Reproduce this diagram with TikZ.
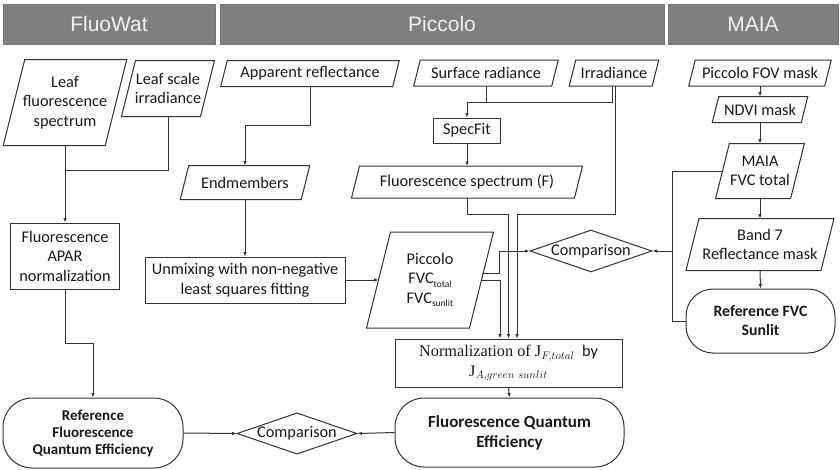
\documentclass[tikz,border=0pt]{standalone}
\usepackage{fontspec}
\setmainfont{Carlito}
\newfontfamily\headfont{Liberation Sans}
\newfontfamily\seriffont{Liberation Serif}
\usepackage{tikz}
\usetikzlibrary{calc,positioning,shapes,shapes.geometric}
\usetikzlibrary{arrows,arrows.meta}

\definecolor{barGray}{HTML}{7F7F7F}
\definecolor{lineGray}{HTML}{333333}

\begin{document}
\begin{tikzpicture}[x=1pt,y=-1pt]
    \newcommand*{\lowtext}[1]{\raisebox{-0.45ex}{\fontsize{9.5}{9.5}\selectfont #1}}
    \tikzstyle{base}=[draw=lineGray, line width=1pt, inner sep=2pt, align=center, text=black!90, font=\fontsize{16.3}{19.5}\selectfont];
    \tikzstyle{data}=[base, rectangle, draw=none];
    \tikzstyle{process}=[base, rectangle];
    \tikzstyle{result}=[base, rectangle, rounded corners=29pt, font=\bfseries\fontsize{15}{17}\selectfont];
    \tikzstyle{decision}=[base, diamond, aspect=2.9, inner sep=0pt];
    \tikzstyle{flow}=[draw=lineGray, line width=1pt, -{Latex[length=4.5pt,width=3.6pt]}];
    \tikzstyle{line}=[draw=lineGray, line width=1pt];

    \useasboundingbox (0,0) rectangle (840,469);

    % instrument headers
    \foreach \xa/\xb/\name in {3/215/FluoWat, 220/664/Piccolo, 668/838/MAIA} {
      \node[fill=barGray, draw=black!55, line width=0.6pt, minimum height=40pt, minimum width=\xb pt-\xa pt, inner sep=0pt,
            text=white!95!black, font=\headfont\fontsize{21}{21}\selectfont] (hdr-\name) at ({(\xa+\xb)/2},24) {\name};
    }

    % FluoWat column
    \node[data, minimum width=101pt, minimum height=85pt] (leafspec) at (65,102.5) {Leaf\\fluorescence\\spectrum};
    \node[data, minimum width=78pt, minimum height=55pt] (leafirr) at (168,88.5) {Leaf scale\\irradiance};
    \node[process, minimum width=109pt, minimum height=66pt] (apar) at (65,256) {Fluorescence\\APAR\\normalization};
    \node[result, minimum width=180pt, minimum height=70pt] (refqe) at (93,433) {Reference\\Fluorescence\\Quantum Efficiency};
    \node[decision, minimum width=120pt, minimum height=41pt] (cmpB) at (297,433.5) {Comparison};

    % Piccolo column
    \node[data, minimum width=171pt, minimum height=25pt] (appref) at (310,73.5) {Apparent reflectance};
    \node[data, minimum width=120pt, minimum height=33pt] (endm) at (245,182.5) {Endmembers};
    \node[process, minimum width=200pt, minimum height=46pt] (unmix) at (245,280) {Unmixing with non-negative\\least squares fitting};
    \node[data, minimum width=102pt, minimum height=95pt] (pfvc) at (430,280) {Piccolo\\FVC\lowtext{total}\\FVC\lowtext{sunlit}};
    \node[data, minimum width=137pt, minimum height=25pt] (surfrad) at (486,73) {Surface radiance};
    \node[data, minimum width=82pt, minimum height=25pt] (irr) at (614,73) {Irradiance};
    \node[process, minimum width=67pt, minimum height=25pt] (specfit) at (467,130.5) {SpecFit};
    \node[data, minimum width=222pt, minimum height=31pt] (fluorspec) at (467,182) {Fluorescence spectrum (F)};
    \node[decision, minimum width=122pt, minimum height=42pt] (cmpR) at (591,251) {Comparison};
    \node[process, minimum width=227pt, minimum height=48pt] (norm) at (508.5,363)
      {{\seriffont Normalization of J}$_{F,total}$\ \ by\\{\seriffont J}$_{A,green\ sunlit}$};
    \node[result, minimum width=229pt, minimum height=69pt, font=\bfseries\fontsize{17}{20}\selectfont] (fqe) at (509.5,432.5) {Fluorescence Quantum\\Efficiency};

    % MAIA column
    \node[data, minimum width=135pt, minimum height=25pt] (fov) at (760,73) {Piccolo FOV mask};
    \node[data, minimum width=88pt, minimum height=25pt] (ndvi) at (760,109.5) {NDVI mask};
    \node[data, minimum width=74pt, minimum height=54pt] (maiafvc) at (760,171) {MAIA\\FVC total};
    \node[data, minimum width=134pt, minimum height=51pt] (band7) at (760,244.5) {Band 7\\Reflectance mask};
    \node[result, minimum width=149pt, minimum height=64pt, rounded corners=27pt, font=\bfseries\fontsize{15.8}{19}\selectfont] (refsun) at (760.5,321) {Reference FVC\\Sunlit};

    % slanted outlines of the data nodes
    \foreach \nd in {leafspec, leafirr, appref, endm, pfvc, surfrad, irr, fluorspec, fov, ndvi, maiafvc, band7} {
      \draw[line] let \p1=(\nd.north), \p2=(\nd.south), \n1={0.125*(\y1-\y2)} in
        ([xshift=-\n1]\nd.south west) -- ([xshift=\n1]\nd.north west) -- ([xshift=\n1]\nd.north east)
        -- ([xshift=-\n1]\nd.south east) -- cycle;
    }

    % join points
    \coordinate (irrJoin) at (65,170);
    \coordinate (sfJoin) at (467,102);
    \coordinate (bus) at (672,251);

    % FluoWat flow
    \draw[flow] (leafspec.south) -- (apar.north);
    \draw[line] (leafirr.south) |- (irrJoin);
    \draw[flow] (apar.south) -- ++(0,54) -| (refqe.north);
    \draw[flow] (refqe.east) -- (cmpB.west);

    % Piccolo flow
    \draw[flow] (appref.south) -- ++(0,39) -| (endm.north);
    \draw[flow] (endm.south) -- (unmix.north);
    \draw[flow] (unmix.east) -- (pfvc.west);
    \draw[line] (surfrad.south) -- (surfrad.south |- sfJoin);
    \draw[flow] ([xshift=-1.5pt]irr.south) |- (sfJoin) -- (specfit.north);
    \draw[flow] (specfit.south) -- (fluorspec.north);
    \draw[flow] (fluorspec.south) -- ++(0,16) -| (norm.north);
    \draw[flow] ([xshift=1.5pt]irr.south) -- ++(0,128) -| ([xshift=8.5pt]norm.north);
    \draw[flow] ([yshift=7pt]pfvc.east) -- ++(18,0) |- (cmpR.west);
    \draw[flow] (pfvc.east) -| ([xshift=-8.5pt]norm.north);
    \draw[flow] (norm.south) -- (fqe.north);
    \draw[flow] (fqe.west) -- (cmpB.east);

    % MAIA flow
    \foreach \a/\b in {fov/ndvi, ndvi/maiafvc, maiafvc/band7, band7/refsun} {
      \draw[flow] (\a.south) -- (\b.north);
    }
    \draw[line] (maiafvc.west) -| (bus) |- (refsun.west);
    \draw[flow] (bus) -- (cmpR.east);
\end{tikzpicture}
\end{document}
